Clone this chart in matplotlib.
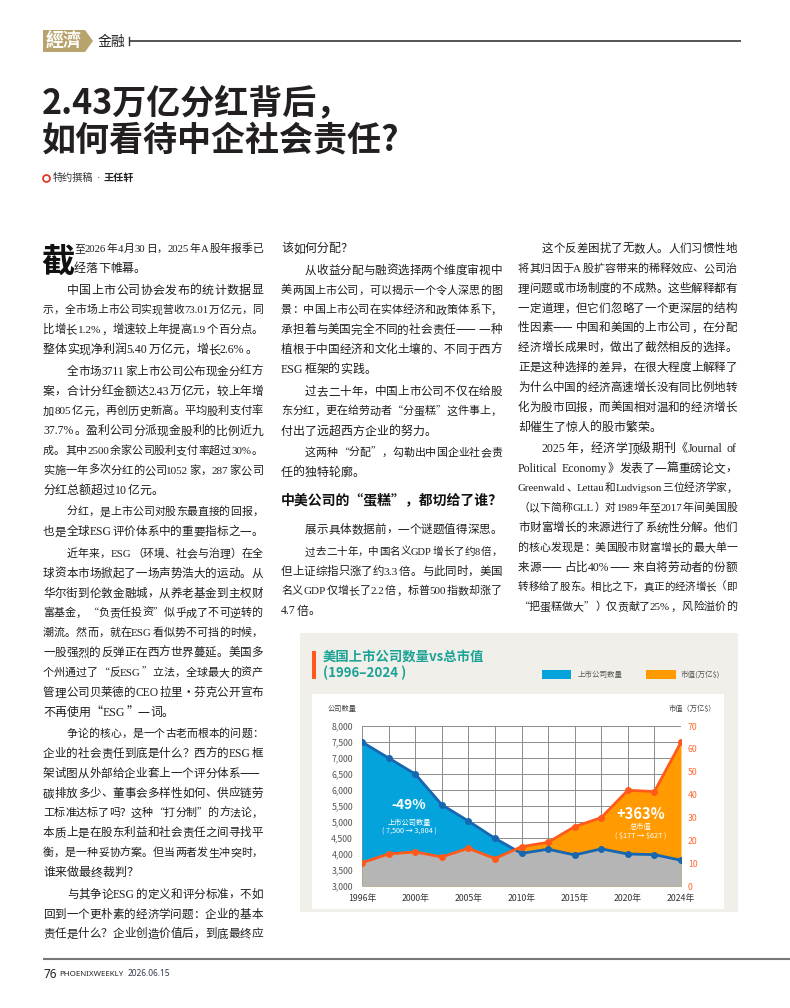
import re
import numpy as np
import matplotlib
matplotlib.use("Agg")
import matplotlib.pyplot as plt
from matplotlib.patches import Rectangle, Polygon
from matplotlib.font_manager import FontProperties

plt.rcParams['font.family'] = ['Noto Sans CJK SC', 'DejaVu Sans']

W, H, DPI = 790, 1008, 100

# ---- 图表数据 ----
year_labels = ['1996年', '', '2000年', '', '2005年', '', '2010年', '',
               '2015年', '', '2020年', '', '2024年']
companies = [7500, 7000, 6500, 5540, 5030, 4490, 4020, 4150, 3970, 4160, 4000, 3980, 3804]
market_cap = [10.2, 14.0, 14.9, 12.7, 16.5, 12.0, 17.2, 19.1, 26.0, 29.9, 41.9, 41.3, 62.9]
count_ticks = list(range(3000, 8001, 500))
cap_ticks = list(range(0, 71, 10))

# ---- 正文 ----
col1 = [
    ["至2026年4月30日，2025年A股年报季已", "经落下帷幕。"],
    ["中国上市公司协会发布的统计数据显",
     "示，全市场上市公司实现营收73.01万亿元，同",
     "比增长1.2%，增速较上年提高1.9个百分点。",
     "整体实现净利润5.40万亿元，增长2.6%。"],
    ["全市场3711家上市公司公布现金分红方",
     "案，合计分红金额达2.43万亿元，较上年增",
     "加805亿元，再创历史新高。平均股利支付率",
     "37.7%。盈利公司分派现金股利的比例近九",
     "成。其中2500余家公司股利支付率超过30%。",
     "实施一年多次分红的公司1052家，287家公司",
     "分红总额超过10亿元。"],
    ["分红，是上市公司对股东最直接的回报，",
     "也是全球ESG评价体系中的重要指标之一。"],
    ["近年来，ESG（环境、社会与治理）在全",
     "球资本市场掀起了一场声势浩大的运动。从",
     "华尔街到伦敦金融城，从养老基金到主权财",
     "富基金，“负责任投资”似乎成了不可逆转的",
     "潮流。然而，就在ESG看似势不可挡的时候，",
     "一股强烈的反弹正在西方世界蔓延。美国多",
     "个州通过了“反ESG”立法，全球最大的资产",
     "管理公司贝莱德的CEO拉里·芬克公开宣布",
     "不再使用“ESG”一词。"],
    ["争论的核心，是一个古老而根本的问题：",
     "企业的社会责任到底是什么？西方的ESG框",
     "架试图从外部给企业套上一个评分体系——",
     "碳排放多少、董事会多样性如何、供应链劳",
     "工标准达标了吗？这种“打分制”的方法论，",
     "本质上是在股东利益和社会责任之间寻找平",
     "衡，是一种妥协方案。但当两者发生冲突时，",
     "谁来做最终裁判？"],
    ["与其争论ESG的定义和评分标准，不如",
     "回到一个更朴素的经济学问题：企业的基本",
     "责任是什么？企业创造价值后，到底最终应"],
]
col2_top = [
    ["该如何分配？"],
    ["从收益分配与融资选择两个维度审视中",
     "美两国上市公司，可以揭示一个令人深思的图",
     "景：中国上市公司在实体经济和政策体系下，",
     "承担着与美国完全不同的社会责任——一种",
     "植根于中国经济和文化土壤的、不同于西方",
     "ESG框架的实践。"],
    ["过去二十年，中国上市公司不仅在给股",
     "东分红，更在给劳动者“分蛋糕”这件事上，",
     "付出了远超西方企业的努力。"],
    ["这两种“分配”，勾勒出中国企业社会责",
     "任的独特轮廓。"],
]
col2_heading = "中美公司的“蛋糕”，都切给了谁？"
col2_bottom = [
    ["展示具体数据前，一个谜题值得深思。"],
    ["过去二十年，中国名义GDP增长了约8倍，",
     "但上证综指只涨了约3.3倍。与此同时，美国",
     "名义GDP仅增长了2.2倍，标普500指数却涨了",
     "4.7倍。"],
]
col3 = [
    ["这个反差困扰了无数人。人们习惯性地",
     "将其归因于A股扩容带来的稀释效应、公司治",
     "理问题或市场制度的不成熟。这些解释都有",
     "一定道理，但它们忽略了一个更深层的结构",
     "性因素——中国和美国的上市公司，在分配",
     "经济增长成果时，做出了截然相反的选择。",
     "正是这种选择的差异，在很大程度上解释了",
     "为什么中国的经济高速增长没有同比例地转",
     "化为股市回报，而美国相对温和的经济增长",
     "却催生了惊人的股市繁荣。"],
    ["2025年，经济学顶级期刊《Journal of",
     "Political Economy》发表了一篇重磅论文，",
     "Greenwald、Lettau和Ludvigson三位经济学家，",
     "（以下简称GLL）对1989年至2017年间美国股",
     "市财富增长的来源进行了系统性分解。他们",
     "的核心发现是：美国股市财富增长的最大单一",
     "来源——占比40%——来自将劳动者的份额",
     "转移给了股东。相比之下，真正的经济增长（即",
     "“把蛋糕做大”）仅贡献了25%，风险溢价的"],
]

BODY_SIZE = 8.6
LINE_H = 19.8
PARA_GAP = 2.0
TEXT_COLOR = '#1e1e1e'

BLUE_FILL = '#05A3DC'
BLUE_LINE = '#1666B0'
ORANGE_FILL = '#FF9A00'
ORANGE_LINE = '#FF5A1C'
GRAY_FILL = '#B5B5B5'

fig = plt.figure(figsize=(W / DPI, H / DPI), dpi=DPI)
page = fig.add_axes([0, 0, 1, 1], zorder=0)
page.set_xlim(0, W)
page.set_ylim(H, 0)
page.axis('off')
renderer = fig.canvas.get_renderer()

TOKEN_RE = re.compile(r'—+|[A-Za-z0-9.%$,\-]+| |.')


def is_latin(tok):
    return ord(tok[0]) < 0x2000 and tok[0] != '·'


def token_width(tok, size):
    em = size * DPI / 72
    c = tok[0]
    if c == ' ':
        return 0.25 * em
    if c == '—':
        return len(tok) * em
    if not is_latin(tok):
        return em
    prop = FontProperties(family='Liberation Serif', size=size)
    w, _, _ = renderer.get_text_width_height_descent(tok, prop, ismath=False)
    return w + 0.08 * em


def put_line(x0, x1, y, line, size, justify):
    toks = TOKEN_RE.findall(line)
    widths = [token_width(t, size) for t in toks]
    natural = sum(widths)
    if natural > x1 - x0:
        # 过长的行略微缩小字号
        size = size * max(0.88, (x1 - x0) / natural)
        widths = [token_width(t, size) for t in toks]
        natural = sum(widths)
    em = size * DPI / 72
    gap = 0
    if justify and len(toks) > 1:
        gap = (x1 - x0 - natural) / (len(toks) - 1)
    x = x0
    for t, w in zip(toks, widths):
        if t.strip():
            if is_latin(t):
                fam = ['Liberation Serif', 'DejaVu Serif']
            else:
                fam = ['Noto Sans CJK SC', 'DejaVu Sans']
            page.text(x, y + 0.36 * em, t, fontsize=size, family=fam,
                      ha='left', va='baseline', color=TEXT_COLOR, parse_math=False)
        x += w + gap


def put_column(paras, x0, x1, y, first_indent=True, continues=False, dropcap_x=None):
    em = BODY_SIZE * DPI / 72
    for pi, para in enumerate(paras):
        for li, line in enumerate(para):
            start = x0
            if li == 0 and (pi > 0 or first_indent):
                start = x0 + 2 * em
            if dropcap_x is not None and pi == 0 and li < 2:
                start = dropcap_x
            last = li == len(para) - 1
            justify = not last or (continues and pi == len(paras) - 1)
            put_line(start, x1, y, line, BODY_SIZE, justify)
            y += LINE_H
        y += PARA_GAP
    return y


# ---- 刊头 ----
page.add_patch(Polygon([(43, 30), (85, 30), (93, 41), (85, 52), (43, 52)],
                       closed=True, color='#B7A36B', lw=0))
page.text(64, 41.5, '經濟', fontsize=13, weight='bold', color='white',
          family=['Noto Sans CJK TC', 'DejaVu Sans'], ha='center', va='center')
page.text(98, 42, '金融', fontsize=10, color='#222222', ha='left', va='center')
page.plot([129, 741], [41, 41], color='#555555', lw=1.4, solid_capstyle='butt')
page.plot([129, 129], [37, 45], color='#333333', lw=1.0)

# ---- 标题 ----
page.text(42, 113, '2.43万亿分红背后，', fontsize=24.5, weight='heavy', color='#231f20',
          ha='left', va='baseline')
page.text(42, 150, '如何看待中企社会责任?', fontsize=24.5, weight='heavy', color='#231f20',
          ha='left', va='baseline')
page.plot([46], [177.5], marker='o', ms=5, mfc='none', mec='#E2382B', mew=1.3)
page.text(53, 178, '特约撰稿', fontsize=7.3, color='#333333', ha='left', va='center')
page.text(97, 178, '·', fontsize=7.3, color='#333333', ha='left', va='center',
          family=['DejaVu Sans'])
page.text(103, 178, '王任轩', fontsize=7.3, weight='bold', color='#222222', ha='left', va='center')

# ---- 正文三栏 ----
page.text(41, 272, '截', fontsize=24, weight='heavy', color='#111111', ha='left', va='baseline')
put_column(col1, 43, 263, 248, continues=True, dropcap_x=74)
put_column(col2_top, 281, 502, 248, first_indent=False)
page.text(281, 500, col2_heading, fontsize=10, weight='bold', color='#111111',
          ha='left', va='center')
put_column(col2_bottom, 281, 502, 529)
put_column(col3, 518, 737, 248, continues=True)

# ---- 图表面板 ----
page.add_patch(Rectangle((300, 633), 438, 279, color='#F0EFEA', lw=0))
page.add_patch(Rectangle((312, 694), 412, 215, color='white', lw=0))
page.add_patch(Rectangle((312, 651), 3.5, 28, color='#FF5A1C', lw=0))
page.text(323, 657, '美国上市公司数量vs总市值', fontsize=9.6, weight='bold',
          color='#1BA396', ha='left', va='center')
page.text(323, 673, '(1996–2024 )', fontsize=9.6, weight='bold',
          color='#1BA396', ha='left', va='center')
page.add_patch(Rectangle((542, 670), 29, 9, color=BLUE_FILL, lw=0))
page.text(578, 675, '上市公司数量', fontsize=5.4, color='#555555', ha='left', va='center')
page.add_patch(Rectangle((646, 670), 30, 9, color=ORANGE_FILL, lw=0))
page.text(681, 675, '市值(万亿$)', fontsize=5.4, color='#555555', ha='left', va='center',
          parse_math=False)
page.text(328, 709, '公司数量', fontsize=5.2, color='#444444', ha='left', va='center')
page.text(716, 709, '市值（万亿$）', fontsize=5.2, color='#444444', ha='right', va='center',
          parse_math=False)

ax = fig.add_axes([362 / W, 1 - 886 / H, (681 - 362) / W, 160 / H], zorder=2)
ax.set_facecolor('none')
x = np.arange(len(companies))
c_lo, c_hi = count_ticks[0], count_ticks[-1]
m_lo, m_hi = cap_ticks[0], cap_ticks[-1]
cap_left = c_lo + (np.array(market_cap) - m_lo) * (c_hi - c_lo) / (m_hi - m_lo)
xd = np.linspace(0, x[-1], 800)
low = np.minimum(np.interp(xd, x, companies), np.interp(xd, x, cap_left))

ax.fill_between(x, c_lo, companies, color=BLUE_FILL, lw=0, zorder=1)
ax.fill_between(x, c_lo, cap_left, color=ORANGE_FILL, lw=0, zorder=1)
ax.fill_between(xd, c_lo, low, color=GRAY_FILL, lw=0, zorder=2)
ax.plot(x, companies, color=BLUE_LINE, lw=2, marker='o', ms=4, zorder=4)
ax.plot(x, cap_left, color=ORANGE_LINE, lw=2, marker='o', ms=4, zorder=4)

ax.set_xlim(x[0], x[-1])
ax.set_ylim(c_lo, c_hi)
ax.set_xticks(x, year_labels)
ax.set_yticks(count_ticks, [f'{v:,}' for v in count_ticks])
ax.set_axisbelow(True)
ax.grid(True, color='#8c8c8c', lw=0.7)
ax.tick_params(axis='both', length=0, labelsize=6.3, labelcolor='#555555')
ax.tick_params(axis='y', pad=6.5)
ax.tick_params(axis='x', pad=5.5, labelcolor='#333333')
for s in ax.spines.values():
    s.set_visible(False)

ax2 = ax.twinx()
ax2.set_ylim(m_lo, m_hi)
ax2.set_yticks(cap_ticks)
ax2.tick_params(axis='y', length=0, labelsize=6.3, labelcolor='#FF6A30', pad=5)
for s in ax2.spines.values():
    s.set_visible(False)

top = fig.add_axes([0, 0, 1, 1], zorder=10)
top.set_facecolor('none')
top.set_xlim(0, W)
top.set_ylim(H, 0)
top.axis('off')
top.text(409, 805, '-49%', fontsize=10, weight='bold', color='white', ha='center', va='center')
top.text(409, 823, '上市公司数量', fontsize=5.2, color='white', ha='center', va='center')
top.text(409, 832, '( 7,500 → 3,804 )', fontsize=5.2, color='white', ha='center', va='center')
top.text(641, 814, '+363%', fontsize=10.5, weight='bold', color='white', ha='center', va='center')
top.text(641, 827, '总市值', fontsize=5.2, color='white', ha='center', va='center')
top.text(641, 836, '( $17T → $62T )', fontsize=5.2, color='white', ha='center', va='center',
         parse_math=False)

# ---- 页脚 ----
page.plot([43, 790], [959, 959], color='#777777', lw=1.5, solid_capstyle='butt')
page.text(43, 974, '76', fontsize=8.5, weight='bold', color='#222222', ha='left', va='center',
          family=['Noto Sans', 'DejaVu Sans'])
page.text(59, 974, 'PHOENIXWEEKLY', fontsize=5.7, weight='bold', color='#222222',
          ha='left', va='center', family=['Noto Sans', 'DejaVu Sans'])
page.text(128, 974, '2026.06.15', fontsize=6.0, color='#2f3a4a', ha='left', va='center',
          family=['Noto Sans', 'DejaVu Sans'])

fig.savefig('out.png', dpi=DPI)
